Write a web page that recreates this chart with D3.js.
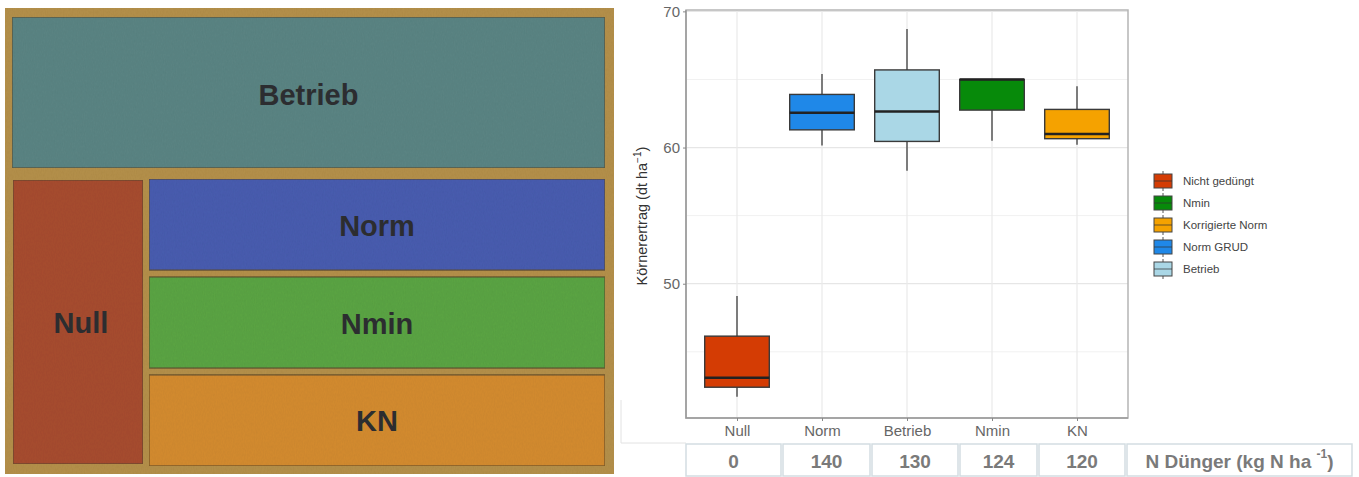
<!DOCTYPE html>
<html>
<head>
<meta charset="utf-8">
<script src="https://cdn.jsdelivr.net/npm/d3@7"></script>
<style>
  html, body { margin: 0; padding: 0; background: #fff; }
  svg { display: block; font-family: "Liberation Sans", Arial, sans-serif; }
</style>
</head>
<body>
<svg id="fig" width="1359" height="477"></svg>
<script>
// ---- Field plan (plots of the trial) ----
const plotNames  = ["Betrieb", "Null", "Norm", "Nmin", "KN"];
const plotFills  = ["#5b8584", "#a84e33", "#4a5db0", "#5ba545", "#d48c30"];

// ---- Yield boxplots ----
const categories  = ["Null", "Norm", "Betrieb", "Nmin", "KN"];
const whiskerLow  = [41.7, 60.15, 58.3, 60.5, 60.2];
const q1          = [42.4, 61.3, 60.45, 62.75, 60.65];
const median      = [43.1, 62.55, 62.65, 65.0, 61.0];
const q3          = [46.15, 63.9, 65.7, 65.0, 62.8];
const whiskerHigh = [49.1, 65.4, 68.7, 65.0, 64.5];
const boxColors   = ["#d43c04", "#1f88e8", "#aad7e6", "#078a0a", "#f5a200"];

// ---- Legend ----
const legendLabels = ["Nicht gedüngt", "Nmin", "Korrigierte Norm", "Norm GRUD", "Betrieb"];
const legendColors = ["#d43c04", "#078a0a", "#f5a200", "#1f88e8", "#aad7e6"];

// ---- Fertiliser table ----
const nFertilizer = [0, 140, 130, 124, 120];
const yTicks = [50, 60, 70];

const svg = d3.select("#fig");

// ===================== Field plan =====================
const defs = svg.append("defs");
const grain = defs.append("filter").attr("id", "grain")
  .attr("x", 0).attr("y", 0).attr("width", "100%").attr("height", "100%");
grain.append("feTurbulence").attr("type", "fractalNoise")
  .attr("baseFrequency", "0.9 0.35").attr("numOctaves", 2).attr("seed", 4).attr("result", "n");
grain.append("feColorMatrix").attr("in", "n").attr("type", "matrix")
  .attr("values", "0 0 0 0 0  0 0 0 0 0  0 0 0 0 0  0 0 0 0.10 0").attr("result", "dark");
grain.append("feComposite").attr("in", "dark").attr("in2", "SourceGraphic").attr("operator", "in").attr("result", "d2");
grain.append("feMerge").selectAll("feMergeNode").data(["SourceGraphic", "d2"]).join("feMergeNode").attr("in", d => d);

const board = { x: 5, y: 8, w: 609, h: 466 };
const plan = svg.append("g");
plan.append("rect")
  .attr("x", board.x).attr("y", board.y).attr("width", board.w).attr("height", board.h)
  .attr("fill", "#b5914c").attr("filter", "url(#grain)");

// top strip, left column and the stacked right-hand rows
const stripBox = { x: 12, y: 17, w: 593, h: 151 };
const lowerY = 179, lowerH = 287;
const columnBox = { x: 13, y: lowerY + 1, w: 130, h: lowerH - 3 };
const rowScale = d3.scaleBand().domain(plotNames.slice(2)).range([lowerY, lowerY + lowerH]).paddingInner(0.07);
const rightX = 149, rightW = 456;

const layout = plotNames.map((name, i) => {
  if (i === 0) return { name, fill: plotFills[i], ...stripBox };
  if (i === 1) return { name, fill: plotFills[i], ...columnBox };
  return { name, fill: plotFills[i], x: rightX, y: rowScale(name), w: rightW, h: rowScale.bandwidth() };
});

plan.selectAll("rect.plot").data(layout).join("rect")
  .attr("class", "plot")
  .attr("x", d => d.x).attr("y", d => d.y)
  .attr("width", d => d.w).attr("height", d => d.h)
  .attr("fill", d => d.fill)
  .attr("stroke", "#5b4a30").attr("stroke-opacity", 0.7).attr("stroke-width", 1.5)
  .attr("filter", "url(#grain)");

plan.selectAll("text.plot").data(layout).join("text")
  .attr("class", "plot")
  .attr("x", d => d.x + d.w / 2 + (d.name === "Null" ? 3 : 0))
  .attr("y", d => d.y + d.h / 2 + (d.name === "Betrieb" ? 2 : 1))
  .attr("text-anchor", "middle").attr("dominant-baseline", "central")
  .attr("font-weight", "bold").attr("font-size", 29).attr("fill", "#2c2d30")
  .text(d => d.name);

// ===================== Boxplot =====================
const panel = { left: 686, right: 1128, top: 10, bottom: 418 };
const x = d3.scalePoint().domain(categories).range([panel.left, panel.right]).padding(0.6);
const y = d3.scaleLinear().domain([40.14, 70.1]).range([panel.bottom, panel.top]);
const boxW = x.step() * 0.76;

const chart = svg.append("g");

// thin frame line left of the plot
chart.append("path").attr("d", `M621,400 V443 H686`).attr("fill", "none")
  .attr("stroke", "#e2e2e2").attr("stroke-width", 1);

// grid
const minor = [45, 55, 65];
chart.append("g").selectAll("line").data(minor).join("line")
  .attr("x1", panel.left).attr("x2", panel.right)
  .attr("y1", d => y(d)).attr("y2", d => y(d))
  .attr("stroke", "#f1f1f1").attr("stroke-width", 1);
chart.append("g").selectAll("line").data(yTicks).join("line")
  .attr("x1", panel.left).attr("x2", panel.right)
  .attr("y1", d => y(d)).attr("y2", d => y(d))
  .attr("stroke", "#e6e6e6").attr("stroke-width", 1.2);
chart.append("g").selectAll("line").data(categories).join("line")
  .attr("x1", d => x(d)).attr("x2", d => x(d))
  .attr("y1", panel.top).attr("y2", panel.bottom)
  .attr("stroke", "#e9e9e9").attr("stroke-width", 1.2);

// boxes
const boxes = categories.map((c, i) => ({
  c, lo: whiskerLow[i], q1: q1[i], med: median[i], q3: q3[i], hi: whiskerHigh[i], col: boxColors[i]
}));
const bg = chart.append("g").selectAll("g").data(boxes).join("g");
bg.append("line")
  .attr("x1", d => x(d.c)).attr("x2", d => x(d.c))
  .attr("y1", d => y(d.hi)).attr("y2", d => y(d.q3))
  .attr("stroke", "#555").attr("stroke-width", 1.5);
bg.append("line")
  .attr("x1", d => x(d.c)).attr("x2", d => x(d.c))
  .attr("y1", d => y(d.q1)).attr("y2", d => y(d.lo))
  .attr("stroke", "#555").attr("stroke-width", 1.5);
bg.append("rect")
  .attr("x", d => x(d.c) - boxW / 2).attr("width", boxW)
  .attr("y", d => y(d.q3)).attr("height", d => y(d.q1) - y(d.q3))
  .attr("fill", d => d.col).attr("stroke", "#3a3a3a").attr("stroke-width", 1.4);
bg.append("line")
  .attr("x1", d => x(d.c) - boxW / 2).attr("x2", d => x(d.c) + boxW / 2)
  .attr("y1", d => y(d.med)).attr("y2", d => y(d.med))
  .attr("stroke", "#222").attr("stroke-width", 2.6);

// panel border
chart.append("rect")
  .attr("x", panel.left).attr("y", panel.top)
  .attr("width", panel.right - panel.left).attr("height", panel.bottom - panel.top)
  .attr("fill", "none").attr("stroke", "#b5b5b5").attr("stroke-width", 1.5);
chart.append("path")
  .attr("d", `M${panel.left},${panel.top} V${panel.bottom} H${panel.right}`)
  .attr("fill", "none").attr("stroke", "#9a9a9a").attr("stroke-width", 1.5);

// axes
const yAxis = chart.append("g").attr("transform", `translate(${panel.left},0)`)
  .call(d3.axisLeft(y).tickValues(yTicks).tickSize(3).tickPadding(3));
yAxis.select(".domain").remove();
yAxis.selectAll("line").attr("stroke", "#888");
yAxis.selectAll("text").attr("font-size", 15).attr("fill", "#666")
  .attr("font-family", "Liberation Sans, Arial, sans-serif");

const xAxis = chart.append("g").attr("transform", `translate(0,${panel.bottom})`)
  .call(d3.axisBottom(x).tickSize(3).tickPadding(4));
xAxis.select(".domain").remove();
xAxis.selectAll("line").attr("stroke", "#888");
xAxis.selectAll("text").attr("font-size", 15).attr("fill", "#666")
  .attr("font-family", "Liberation Sans, Arial, sans-serif");

// y axis title
const yt = chart.append("text")
  .attr("transform", `translate(647,${(panel.top + panel.bottom) / 2 + 2}) rotate(-90)`)
  .attr("text-anchor", "middle").attr("font-size", 14.5).attr("fill", "#333");
yt.append("tspan").text("Körnerertrag (dt ha");
yt.append("tspan").attr("dy", -6).attr("font-size", 10).text("−1");
yt.append("tspan").attr("dy", 6).text(")");

// legend
const leg = chart.append("g").attr("transform", "translate(1153,181)");
const li = leg.selectAll("g").data(legendLabels).join("g")
  .attr("transform", (d, i) => `translate(0,${i * 22})`);
li.append("line").attr("x1", 10).attr("x2", 10).attr("y1", -10).attr("y2", 10)
  .attr("stroke", "#555").attr("stroke-width", 1);
li.append("rect").attr("x", 1).attr("y", -7).attr("width", 18).attr("height", 14)
  .attr("fill", (d, i) => legendColors[i]).attr("stroke", "#444").attr("stroke-width", 1);
li.append("line").attr("x1", 1).attr("x2", 19).attr("y1", 0).attr("y2", 0)
  .attr("stroke", "#333").attr("stroke-width", 1.2).attr("stroke-opacity", 0.6);
li.append("text").attr("x", 30).attr("y", 0).attr("dominant-baseline", "central")
  .attr("font-size", 11.5).attr("fill", "#444").text(d => d);

// fertiliser table
const tableTop = 444, tableBot = 476;
const bounds = [685, 782, 871, 959, 1038, 1126, 1353];
const cells = nFertilizer.map((v, i) => ({ text: String(v), x0: bounds[i], x1: bounds[i + 1], sup: false }));
cells.push({ text: "N Dünger (kg N ha ", x0: bounds[5], x1: bounds[6], sup: true });
const tg = chart.append("g");
tg.selectAll("rect").data(cells).join("rect")
  .attr("x", d => d.x0 + 1).attr("y", tableTop)
  .attr("width", d => d.x1 - d.x0 - 2).attr("height", tableBot - tableTop)
  .attr("fill", "#fff").attr("stroke", "#d3dde2").attr("stroke-width", 1.5);
const tt = tg.selectAll("text").data(cells).join("text")
  .attr("x", d => (d.x0 + d.x1) / 2).attr("y", (tableTop + tableBot) / 2 + 1)
  .attr("text-anchor", "middle").attr("dominant-baseline", "central")
  .attr("font-size", 19).attr("font-weight", "bold").attr("fill", "#7a7a7a");
tt.filter(d => !d.sup).text(d => d.text);
const supT = tt.filter(d => d.sup);
supT.append("tspan").text(d => d.text);
supT.append("tspan").attr("dy", -7).attr("font-size", 12).text("-1");
supT.append("tspan").attr("dy", 7).text(")");
</script>
</body>
</html>
